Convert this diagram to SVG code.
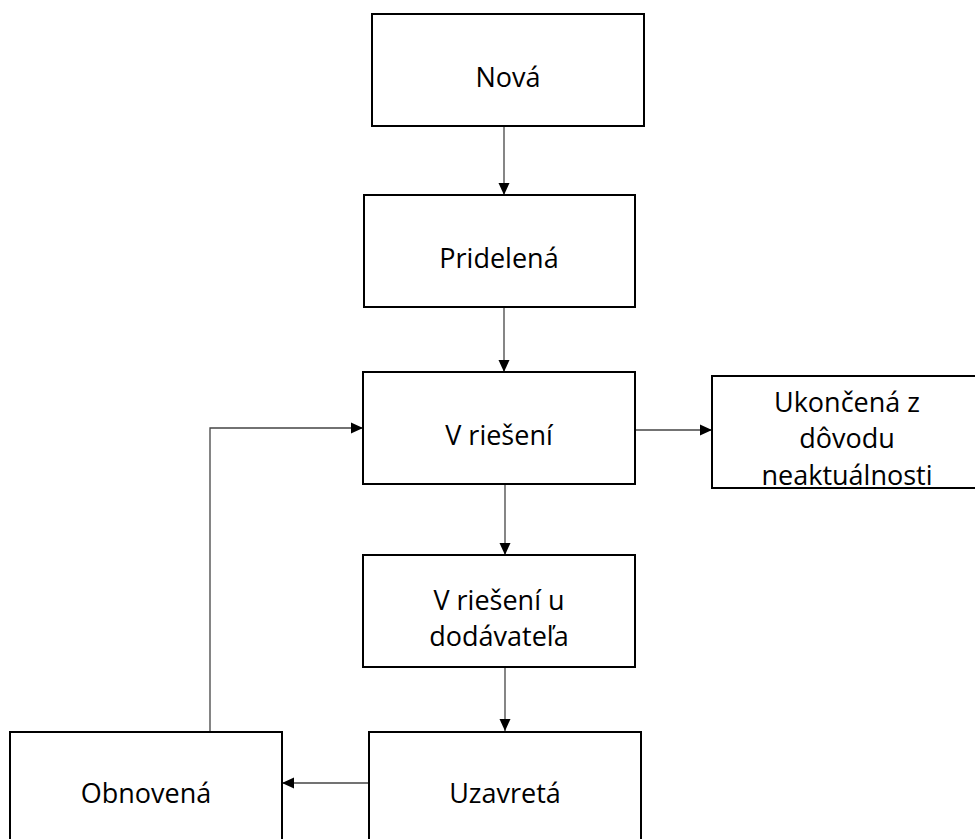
<svg xmlns="http://www.w3.org/2000/svg" width="975" height="839" viewBox="0 0 975 839">
<defs>
<marker id="ah" viewBox="0 0 12 12" refX="12" refY="6" markerWidth="12" markerHeight="12" markerUnits="userSpaceOnUse" orient="auto">
<path d="M0,0.5 L12,6 L0,11.5 Z" fill="#000"/>
</marker>
<style>
.box{fill:#fff;stroke:#000;stroke-width:2}
.lbl{font-family:"Open Sans","Noto Sans","Liberation Sans",sans-serif;font-size:27px;fill:#000;text-anchor:middle}
.con{fill:none;stroke:#444;stroke-width:1.3;marker-end:url(#ah)}
</style>
</defs>
<rect width="975" height="839" fill="#fff"/>
<g id="connectors">
<line class="con" x1="504" y1="127" x2="504" y2="195"/>
<line class="con" x1="504" y1="307" x2="504" y2="372"/>
<line class="con" x1="635" y1="430" x2="712" y2="430"/>
<line class="con" x1="505" y1="484" x2="505" y2="555"/>
<line class="con" x1="505" y1="667" x2="505" y2="731"/>
<line class="con" x1="369" y1="783" x2="282" y2="783"/>
<polyline class="con" points="210,732 210,428 363,428"/>
</g>
<g id="nova"><rect class="box" x="372" y="14" width="272" height="112"/><text class="lbl" x="508" y="87">Nová</text></g>
<g id="pridelena"><rect class="box" x="364" y="195" width="271" height="112"/><text class="lbl" x="499" y="268">Pridelená</text></g>
<g id="vrieseni"><rect class="box" x="363" y="372" width="272" height="112"/><text class="lbl" x="499" y="445">V riešení</text></g>
<g id="ukoncena"><rect class="box" x="712" y="376" width="270" height="112"/><text class="lbl" x="847" y="412">Ukončená z</text><text class="lbl" x="847" y="448">dôvodu</text><text class="lbl" x="847" y="485">neaktuálnosti</text></g>
<g id="vrieseniu"><rect class="box" x="363" y="555" width="272" height="112"/><text class="lbl" x="499" y="610">V riešení u</text><text class="lbl" x="499" y="646">dodávateľa</text></g>
<g id="uzavreta"><rect class="box" x="369" y="732" width="272" height="112"/><text class="lbl" x="505" y="803">Uzavretá</text></g>
<g id="obnovena"><rect class="box" x="10" y="732" width="272" height="112"/><text class="lbl" x="146" y="803">Obnovená</text></g>
</svg>
